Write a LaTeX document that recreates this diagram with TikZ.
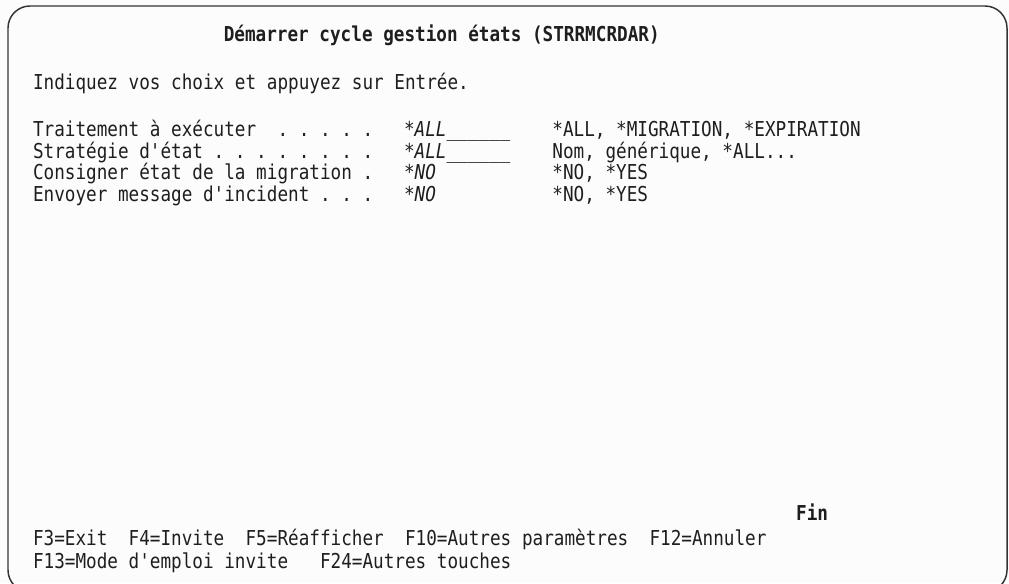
\documentclass[tikz,border=0pt]{standalone}
\usepackage{fontspec}
\setmonofont{DejaVu Sans Mono}[FakeStretch=0.86]
\usepackage{xcolor}
\definecolor{scrtext}{HTML}{1E1E1E}
\definecolor{scrline}{HTML}{333333}
\definecolor{scrback}{HTML}{FCFCFC}
% column of the 5250 screen -> x
\newcommand{\cx}[1]{33+10.6*#1}
\newcommand{\scrfont}{\ttfamily\fontsize{15.4}{18}\selectfont}

\begin{document}
\begin{tikzpicture}[line cap=round,line join=round,x=0.75pt,y=-0.75pt,
  scr/.style={anchor=base west,inner sep=0pt,outer sep=0pt,text=scrtext,font=\scrfont},
  scrbold/.style={scr,font=\scrfont\bfseries},
  scrval/.style={scr,font=\scrfont\itshape}]
\useasboundingbox (0,0) rectangle (1009,583);
\clip (0,0) rectangle (1009,583);
\fill[scrback] (0,0) rectangle (1009,583);
% screen frame
\draw[scrline,line width=1.1pt,rounded corners=16.5pt] (8,6) rectangle (1007,592);
% header
\node [scrbold] (titre) at ({\cx{18}},41) {Démarrer cycle gestion états (STRRMCRDAR)};
\node [scr] (intro) at ({\cx{0}},89) {Indiquez vos choix et appuyez sur Entrée.};
% parameters
\node [scr] (lib1) at ({\cx{0}},136.5) {Traitement à exécuter~~. . . . .};
\node [scr] (lib2) at ({\cx{0}},158.2) {Stratégie d'état . . . . . . . .};
\node [scr] (lib3) at ({\cx{0}},179.9) {Consigner état de la migration .};
\node [scr] (lib4) at ({\cx{0}},201.6) {Envoyer message d'incident . . .};
\node [scrval] (val1) at ({\cx{35}},136.5) {{\upshape*}ALL\_\_\_\_\_\_};
\node [scrval] (val2) at ({\cx{35}},158.2) {{\upshape*}ALL\_\_\_\_\_\_};
\node [scrval] (val3) at ({\cx{35}},179.9) {{\upshape*}NO};
\node [scrval] (val4) at ({\cx{35}},201.6) {{\upshape*}NO};
\node [scr] (choix1) at ({\cx{49}},136.5) {*ALL, *MIGRATION, *EXPIRATION};
\node [scr] (choix2) at ({\cx{49}},158.2) {Nom, générique, *ALL...};
\node [scr] (choix3) at ({\cx{49}},179.9) {*NO, *YES};
\node [scr] (choix4) at ({\cx{49}},201.6) {*NO, *YES};
% footer
\node [scrbold] (fin) at ({\cx{72}},520) {Fin};
\node [scr] (touches1) at ({\cx{0}},545) {F3=Exit~~F4=Invite~~F5=Réafficher~~F10=Autres paramètres~~F12=Annuler};
\node [scr] (touches2) at ({\cx{0}},568) {F13=Mode d'emploi invite~~~F24=Autres touches};
\end{tikzpicture}
\end{document}
